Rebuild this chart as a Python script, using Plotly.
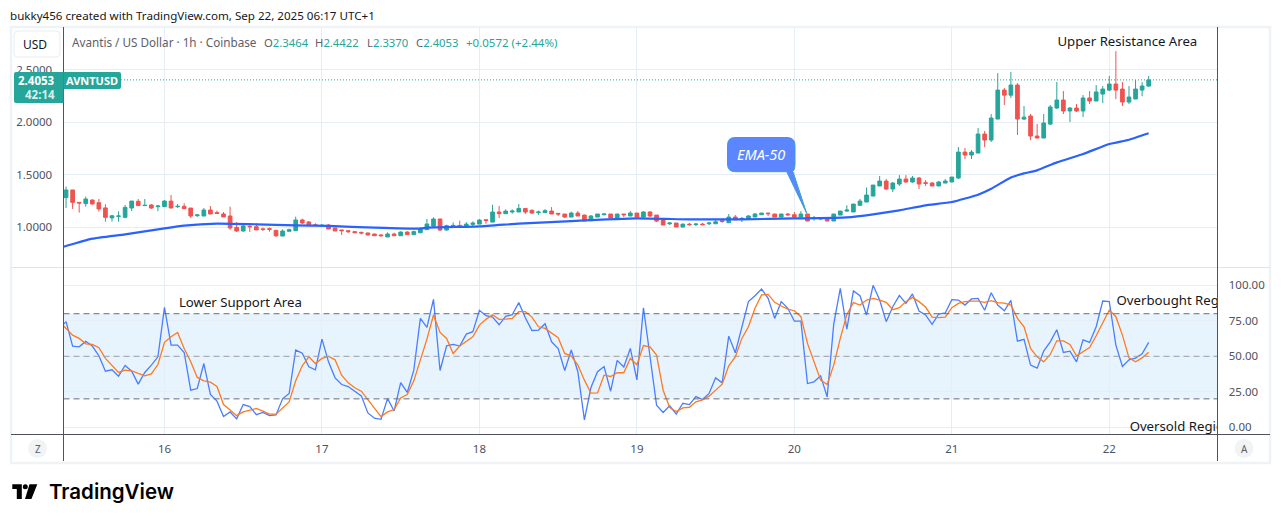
import pandas as pd
import plotly.graph_objects as go

W, H = 1281, 522
GREEN = "#26a69a"
RED = "#ef5350"
GRID = "#e6edf3"
DARK = "#50535e"

# hourly candles, Sep 15 09:00 to Sep 22 06:00
opens = [
    1.283, 1.356, 1.238, 1.226, 1.26, 1.235, 1.185, 1.09, 1.105, 1.095,
    1.184, 1.248, 1.207, 1.213, 1.197, 1.197, 1.25, 1.197, 1.2, 1.184,
    1.111, 1.108, 1.165, 1.14, 1.127, 1.108, 1.0, 0.965, 1.01, 1.006,
    0.985, 0.987, 0.971, 0.917, 0.962, 0.968, 1.07, 1.051, 1.025, 1.013,
    1.022, 0.994, 0.975, 0.968, 0.959, 0.952, 0.946, 0.936, 0.927, 0.908,
    0.936, 0.92, 0.955, 0.93, 0.949, 0.978,
    1.012, 1.079, 0.974, 1.012, 1.018, 1.0, 1.028, 1.031, 1.072, 1.05,
    1.146, 1.13, 1.146, 1.146, 1.18, 1.162, 1.14, 1.14, 1.155, 1.133,
    1.127, 1.098, 1.136, 1.117, 1.063, 1.098, 1.12, 1.127, 1.089, 1.127,
    1.108, 1.136, 1.098, 1.146, 1.117, 1.069, 1.034, 1.041, 1.003, 1.03,
    1.025, 1.031, 1.034, 1.034, 1.063, 1.044, 1.098, 1.079, 1.075, 1.098,
    1.12, 1.136, 1.127, 1.098, 1.127, 1.12, 1.098, 1.127, 1.085, 1.079,
    1.089, 1.06, 1.117, 1.155, 1.146, 1.21, 1.241, 1.298, 1.394, 1.441,
    1.365, 1.413, 1.46, 1.432, 1.47, 1.425, 1.422, 1.394, 1.422, 1.432,
    1.47, 1.717, 1.689, 1.708, 1.889, 1.832, 2.032, 2.308, 2.26, 2.356,
    2.032, 2.061, 1.87, 1.851, 1.984, 2.137, 2.213, 2.109, 2.137, 2.109,
    2.233, 2.204, 2.27, 2.308, 2.366, 2.318, 2.194, 2.223, 2.308, 2.3464,
]
highs = [
    1.388, 1.356, 1.24, 1.293, 1.267, 1.27, 1.22, 1.118, 1.153, 1.213,
    1.252, 1.27, 1.27, 1.222, 1.213, 1.26, 1.308, 1.222, 1.229, 1.184,
    1.124, 1.184, 1.203, 1.159, 1.146, 1.197, 1.05, 1.02, 1.02, 1.038,
    0.997, 0.997, 0.971, 0.981, 0.987, 1.102, 1.083, 1.06, 1.038, 1.03,
    1.03, 0.994, 0.975, 0.975, 0.965, 0.959, 0.949, 0.94, 0.936, 0.952,
    0.949, 0.962, 0.962, 0.968, 1.0, 1.08,
    1.095, 1.085, 1.025, 1.047, 1.063, 1.05, 1.057, 1.079, 1.079, 1.215,
    1.203, 1.171, 1.171, 1.222, 1.18, 1.171, 1.159, 1.174, 1.193, 1.133,
    1.127, 1.149, 1.155, 1.12, 1.117, 1.127, 1.133, 1.127, 1.127, 1.127,
    1.155, 1.136, 1.155, 1.155, 1.117, 1.069, 1.05, 1.041, 1.034, 1.041,
    1.041, 1.041, 1.05, 1.069, 1.069, 1.127, 1.117, 1.098, 1.117, 1.136,
    1.136, 1.136, 1.127, 1.127, 1.136, 1.146, 1.155, 1.127, 1.108, 1.091,
    1.098, 1.127, 1.155, 1.21, 1.222, 1.27, 1.38, 1.403, 1.489, 1.46,
    1.432, 1.498, 1.498, 1.489, 1.48, 1.45, 1.432, 1.441, 1.46, 1.479,
    1.765, 1.756, 1.737, 1.947, 1.918, 2.08, 2.47, 2.328, 2.48, 2.375,
    2.156, 2.08, 1.985, 2.08, 2.166, 2.385, 2.299, 2.147, 2.175, 2.261,
    2.299, 2.356, 2.347, 2.442, 2.68, 2.385, 2.347, 2.404, 2.385, 2.4422,
]
lows = [
    1.184, 1.175, 1.14, 1.197, 1.216, 1.15, 1.054, 1.054, 1.054, 1.086,
    1.156, 1.207, 1.205, 1.175, 1.153, 1.197, 1.184, 1.184, 1.178, 1.089,
    1.099, 1.108, 1.127, 1.127, 1.099, 0.975, 0.955, 0.96, 0.955, 0.975,
    0.965, 0.959, 0.908, 0.917, 0.962, 0.968, 1.032, 1.016, 1.013, 1.006,
    0.984, 0.965, 0.927, 0.946, 0.949, 0.933, 0.924, 0.917, 0.911, 0.908,
    0.92, 0.917, 0.93, 0.93, 0.943, 0.978,
    1.0, 0.965, 0.97, 1.012, 1.012, 1.0, 1.012, 1.031, 1.034, 1.05,
    1.089, 1.13, 1.13, 1.146, 1.127, 1.127, 1.12, 1.14, 1.127, 1.108,
    1.089, 1.098, 1.108, 1.06, 1.06, 1.098, 1.114, 1.089, 1.089, 1.098,
    1.108, 1.098, 1.098, 1.098, 1.05, 1.022, 1.022, 1.003, 1.0, 1.016,
    1.012, 1.022, 1.022, 1.034, 1.044, 1.04, 1.069, 1.05, 1.075, 1.098,
    1.12, 1.108, 1.098, 1.098, 1.108, 1.089, 1.098, 1.06, 1.063, 1.069,
    1.06, 1.06, 1.117, 1.146, 1.146, 1.21, 1.241, 1.298, 1.394, 1.356,
    1.336, 1.394, 1.425, 1.425, 1.365, 1.394, 1.394, 1.394, 1.422, 1.432,
    1.46, 1.651, 1.651, 1.708, 1.765, 1.813, 2.032, 2.166, 2.232, 1.88,
    2.023, 1.832, 1.851, 1.851, 1.975, 2.128, 2.08, 2.004, 2.099, 2.051,
    2.175, 2.204, 2.184, 2.3, 2.222, 2.156, 2.175, 2.223, 2.25, 2.337,
]
closes = [
    1.356, 1.238, 1.232, 1.27, 1.223, 1.175, 1.095, 1.11, 1.108, 1.19,
    1.25, 1.207, 1.21, 1.184, 1.203, 1.25, 1.184, 1.2, 1.178, 1.108,
    1.118, 1.165, 1.127, 1.133, 1.099, 0.994, 0.965, 1.013, 1.006, 0.975,
    0.98, 0.981, 0.92, 0.965, 0.978, 1.07, 1.041, 1.016, 1.019, 1.019,
    0.984, 0.965, 0.968, 0.959, 0.949, 0.946, 0.927, 0.92, 0.92, 0.936,
    0.92, 0.955, 0.93, 0.959, 0.981, 1.032,
    1.079, 0.974, 1.016, 1.018, 1.012, 1.031, 1.041, 1.069, 1.066, 1.146,
    1.13, 1.155, 1.155, 1.18, 1.146, 1.136, 1.146, 1.159, 1.127, 1.127,
    1.098, 1.136, 1.108, 1.06, 1.108, 1.127, 1.127, 1.089, 1.127, 1.12,
    1.136, 1.098, 1.146, 1.108, 1.06, 1.022, 1.041, 1.003, 1.031, 1.025,
    1.031, 1.025, 1.041, 1.053, 1.056, 1.098, 1.072, 1.085, 1.108, 1.127,
    1.136, 1.13, 1.098, 1.127, 1.12, 1.098, 1.127, 1.06, 1.091, 1.085,
    1.06, 1.127, 1.155, 1.165, 1.222, 1.25, 1.308, 1.403, 1.441, 1.365,
    1.422, 1.46, 1.432, 1.47, 1.413, 1.42, 1.394, 1.432, 1.441, 1.479,
    1.717, 1.689, 1.717, 1.889, 1.832, 2.042, 2.308, 2.26, 2.356, 2.032,
    2.05, 1.87, 1.851, 1.994, 2.147, 2.213, 2.109, 2.137, 2.109, 2.233,
    2.204, 2.29, 2.318, 2.366, 2.308, 2.194, 2.242, 2.318, 2.347, 2.4053,
]

# EMA-50, read at selected hours counted from Sep 16 00:00
ema_hours = [-16, -15, -11, -6, 0, 3, 8, 14, 20, 25, 32, 39, 40, 48, 54, 62, 72, 80, 88, 96,
             104, 108, 112, 116, 120, 124, 126, 129, 131, 133, 136, 140, 144, 147, 150]
ema_values = [0.806, 0.822, 0.892, 0.933, 0.99, 1.016, 1.035, 1.029, 1.019, 1.013, 0.997, 0.987,
              0.9965, 1.009, 1.035, 1.06, 1.085, 1.076, 1.076, 1.085, 1.095, 1.124, 1.162, 1.209,
              1.241, 1.311, 1.368, 1.476, 1.514, 1.543, 1.619, 1.699, 1.794, 1.835, 1.896]

# Stochastic RSI, Sep 15 08:00 to Sep 22 06:00
k_line = [
    69.6, 74.4, 57.2, 56.7, 60.5, 57.2, 50.4, 39.5, 40.5, 36, 43.5, 39.5, 30.4, 38.6, 43.8, 49.6, 84.5,
    57.9, 57.9, 52.7, 26.1, 27.3, 44.9, 23.1, 18.4, 7.5, 10.8, 5.9, 16, 14.6, 8.9, 10.4, 8.2, 8.7, 20,
    23.8, 54.4, 52.2, 42.6, 40.5, 62.1, 46.1, 34.8, 30.1, 28.7, 25.4, 22.1, 10.1, 6.4, 5.6, 20.2, 11.5,
    31.5, 24.5, 40.2, 76.7, 70.4,
    90.1, 40, 57.4, 58.4, 57.2, 65.6, 67.3, 82.4, 78.6, 77.6, 72.2, 78.1, 79.3, 87.8, 77.2, 68.2, 68.5,
    72.9, 60.2, 55.5, 40, 54.4, 39.1, 5.2, 28, 39.1, 42.8, 25.4, 47.1, 42.4, 55.5, 33.4, 84.2, 49.6,
    15.5, 10.4, 15.1, 9.2, 16.9, 16, 21.6, 19.5, 23.8, 34.8, 31.3, 64.2, 52.5, 70.6, 88.5, 92.7, 97.4,
    90.8, 76.7, 88.5, 83.8, 74.8, 74.8, 30.8, 32, 36.2, 21.4, 72.7, 97.9, 69.2,
    96, 92.7, 79.1, 100, 89.6, 74.4, 84.9, 92.9, 87.3, 93.9, 81.9, 79.1, 72.5, 79.8, 80.5, 89.9, 89.6,
    86.1, 90.4, 90.8, 82.4, 94.8, 86.1, 82.1, 89.4, 60.7, 61.9, 43.8, 41.6, 53.6, 60.2, 68.7, 52.7,
    53.6, 46.1, 61.6, 59.8, 70.8, 88.9, 88.5, 57.9, 42.8, 47.5, 48.7, 51.8, 59.8,
]
d_line = [
    74.4, 69.6, 64.9, 62.6, 58.8, 58.4, 56, 48.5, 43.8, 38.6, 40.2, 39.8, 37.9, 36.2, 37.6, 44.2, 59.8,
    63.8, 66.8, 55.5, 46.1, 35.1, 32.7, 31.8, 28.7, 16, 12.2, 8.2, 10.8, 12, 13.2, 11.3, 9.2, 9.2, 13.2,
    17.9, 32.7, 43.3, 49.6, 44.9, 48.5, 49.9, 47.5, 36.7, 31.3, 27.8, 25.4, 19.5, 13.2, 7.5, 10.8, 12.5,
    20.7, 23.1, 32.7, 47.3, 62.1,
    79.1, 66.8, 62.6, 52, 57.2, 60.7, 63.8, 72, 76, 79.3, 76, 76.2, 76.7, 81.4, 81.4, 77.6, 70.8, 69.6,
    66.6, 63.1, 52, 50.1, 43.8, 33.2, 24, 24.2, 36.7, 35.8, 38.4, 38.4, 48.5, 44, 57.6, 56.7, 50.8,
    26.1, 13.9, 11.1, 13.6, 14.1, 17.9, 19.3, 21.9, 26.1, 30.4, 43.3, 49.6, 62.6, 70.8, 83.8, 93.2,
    93.6, 88, 85.4, 83.3, 82.1, 77.9, 59.1, 45.6, 33.2, 30.1, 43.8, 62.6, 79.5,
    87.8, 86.1, 89.6, 90.8, 89.6, 88, 82.8, 84.2, 88.5, 91.5, 88.5, 84.7, 77.6, 77.2, 77.6, 84.2, 87.3,
    88.5, 88.9, 88.9, 88, 89.2, 87.8, 87.5, 86.1, 76.7, 70.8, 55.5, 49.6, 46.1, 51.3, 60.9, 60.9, 58.4,
    50.4, 53.6, 56.2, 64.5, 73.9, 82.6, 77.9, 64.9, 48.9, 46.1, 48.9, 52.9,
]

day_ticks = ["16", "17", "18", "19", "20", "21", "22"]
price_ticks = [1.0, 1.5, 2.0, 2.5]
rsi_ticks = [0, 25, 50, 75, 100]

# chart notes: text, hour from Sep 16 00:00, value
price_notes = ["Upper Resistance Area"]
price_note_hours = [136.1]
price_note_values = [2.757]
rsi_notes = ["Lower Support Area", "Overbought Region", "Oversold Region"]
rsi_note_hours = [2.2, 145.1, 147.1]
rsi_note_values = [86.8, 88.2, -0.2]

day0 = pd.Timestamp("2025-09-16 00:00")


def hours_to_time(hours):
    return [day0 + pd.Timedelta(hours=h) for h in hours]


def px(x):
    return x / W


def py(y):
    return 1 - y / H


def path(points):
    # points in screen pixels; tuples of 2 are lines, of 4 are quadratic curves
    parts = []
    for i, p in enumerate(points):
        if len(p) == 2:
            parts.append(("M" if i == 0 else "L") + f"{px(p[0]):.5f},{py(p[1]):.5f}")
        else:
            parts.append(f"Q{px(p[0]):.5f},{py(p[1]):.5f} {px(p[2]):.5f},{py(p[3]):.5f}")
    return " ".join(parts) + " Z"


def paper_shape(**kw):
    kw.setdefault("xref", "paper")
    kw.setdefault("yref", "paper")
    return kw


def rect(x0, y0, x1, y1, **kw):
    return paper_shape(type="rect", x0=px(x0), x1=px(x1), y0=py(y0), y1=py(y1), **kw)


def line(x0, y0, x1, y1, color, width=1):
    return paper_shape(type="line", x0=px(x0), x1=px(x1), y0=py(y0), y1=py(y1),
                       line=dict(color=color, width=width))


def label(text, x, y, size=12, color="#131722", anchor="left", **font):
    # annotations carry 2px of padding, take it back so x is where the glyphs start
    nudge = {"left": -2, "right": 2, "center": 0}[anchor]
    return dict(text=text, x=px(x + nudge), y=py(y), xref="paper", yref="paper", showarrow=False,
                xanchor=anchor, yanchor="middle", align=anchor,
                font=dict(size=size, color=color, **font))


x_first = day0 + pd.Timedelta(hours=-15.39)
x_last = day0 + pd.Timedelta(hours=160.49)
candle_times = pd.date_range(end="2025-09-22 06:00", periods=len(opens), freq="h")
rsi_times = pd.date_range(end="2025-09-22 06:00", periods=len(k_line), freq="h")
day_vals = pd.date_range("2025-09-16", periods=len(day_ticks), freq="D")

fig = go.Figure()
fig.add_trace(go.Candlestick(
    x=candle_times, open=opens, high=highs, low=lows, close=closes,
    increasing=dict(line=dict(color=GREEN, width=1), fillcolor=GREEN),
    decreasing=dict(line=dict(color=RED, width=1), fillcolor=RED),
    whiskerwidth=0, xaxis="x", yaxis="y", showlegend=False, hoverinfo="skip",
))
fig.add_trace(go.Scatter(x=hours_to_time(ema_hours), y=ema_values, mode="lines",
                         line=dict(color="#2962ff", width=2.2, shape="spline", smoothing=0.4),
                         xaxis="x", yaxis="y", hoverinfo="skip"))
fig.add_trace(go.Scatter(x=hours_to_time(price_note_hours), y=price_note_values, text=price_notes,
                         mode="text", textposition="middle right",
                         textfont=dict(size=13.2, color="#131722"),
                         xaxis="x", yaxis="y", hoverinfo="skip"))
fig.add_trace(go.Scatter(x=rsi_times, y=k_line, mode="lines", line=dict(color="#4a7dff", width=1.3),
                         xaxis="x2", yaxis="y2", hoverinfo="skip"))
fig.add_trace(go.Scatter(x=rsi_times, y=d_line, mode="lines", line=dict(color="#ff7a1f", width=1.3),
                         xaxis="x2", yaxis="y2", hoverinfo="skip"))
fig.add_trace(go.Scatter(x=hours_to_time(rsi_note_hours), y=rsi_note_values, text=rsi_notes,
                         mode="text", textposition="middle right",
                         textfont=dict(size=13.2, color="#131722"),
                         xaxis="x2", yaxis="y2", hoverinfo="skip"))

shapes = [
    # stoch rsi band and levels
    dict(type="rect", xref="x2 domain", yref="y2", x0=0, x1=1, y0=20, y1=80, layer="below",
         fillcolor="#e7f4fd", line=dict(width=0)),
    dict(type="line", xref="x2 domain", yref="y2", x0=0, x1=1, y0=80, y1=80,
         line=dict(color="#6a6d78", width=1, dash="6px,4px")),
    dict(type="line", xref="x2 domain", yref="y2", x0=0, x1=1, y0=50, y1=50,
         line=dict(color="#9a9da6", width=1, dash="6px,4px")),
    dict(type="line", xref="x2 domain", yref="y2", x0=0, x1=1, y0=20, y1=20,
         line=dict(color="#6a6d78", width=1, dash="6px,4px")),
    # last price line
    dict(type="line", xref="paper", yref="y", x0=px(121), x1=px(1217.5), y0=closes[-1], y1=closes[-1],
         line=dict(color=GREEN, width=1, dash="1px,2px")),
    # frame and pane separators
    rect(11, 27, 1270, 463, line=dict(color="#f0f3f6", width=2.5)),
    line(11, 267.5, 1270, 267.5, "#e0e3eb"),
    line(11, 434.5, 1270, 434.5, DARK),
    line(63.5, 27, 63.5, 461, DARK),
    line(1217.5, 27, 1217.5, 461, DARK),
    # price tag
    paper_shape(type="path", fillcolor=GREEN, line=dict(width=0), path=path([
        (16, 72), (63.5, 72), (63.5, 103), (16, 103), (14, 103, 14, 101), (14, 74), (14, 72, 16, 72)])),
    paper_shape(type="path", fillcolor=GREEN, line=dict(width=0), path=path([
        (63.5, 72), (119, 72), (121, 72, 121, 74), (121, 87), (121, 89, 119, 89), (63.5, 89)])),
    # USD button
    paper_shape(type="path", fillcolor="#ffffff", line=dict(color="#e8ebf0", width=1), path=path([
        (18, 31), (56, 31), (60, 31, 60, 35), (60, 53), (60, 57, 56, 57), (18, 57),
        (14, 57, 14, 53), (14, 35), (14, 31, 18, 31)])),
    # Z and A buttons
    paper_shape(type="circle", x0=px(28), x1=px(47), y0=py(439), y1=py(458),
                fillcolor="#f2f3f5", line=dict(width=0)),
    paper_shape(type="circle", x0=px(1234.5), x1=px(1253.5), y0=py(439), y1=py(458),
                fillcolor="#f2f3f5", line=dict(width=0)),
    # EMA-50 callout
    paper_shape(type="path", fillcolor="#5b86ff", line=dict(color="#3a9fd0", width=1), path=path([
        (735, 137.5), (787, 137.5), (795, 137.5, 795, 145.5), (795, 164), (795, 171.7, 791, 171.7),
        (793, 171.7), (806.7, 213.3), (786.7, 171.7), (735.5, 171.7), (727.5, 171.7, 727.5, 164),
        (727.5, 145.5), (727.5, 137.5, 735, 137.5)])),
    # TradingView mark
    paper_shape(type="path", fillcolor="#000000", line=dict(width=0), path=path([
        (12.3, 484.3), (21.8, 484.3), (21.8, 499), (16.8, 499), (16.8, 489), (12.3, 489)])),
    paper_shape(type="circle", x0=px(22.8), x1=px(27.8), y0=py(484.3), y1=py(489.3),
                fillcolor="#000000", line=dict(width=0)),
    paper_shape(type="path", fillcolor="#000000", line=dict(width=0), path=path([
        (29.5, 484.3), (37.3, 484.3), (31.4, 499), (25, 499)])),
]

FONT = "Noto Sans"
GREY = "#5d606b"
annotations = [
    label("bukky456 created with TradingView.com, Sep 22, 2025 06:17 UTC+1", 10, 15, 11.6, "#131722"),
    label("USD", 34.5, 44.5, 12, "#131722", "center"),
    label("Avantis / US Dollar · 1h · Coinbase", 72, 42, 11.7, GREY),
    label(f'O<span style="color:{GREEN}">2.3464</span>', 264, 42, 11.3, GREY),
    label(f'H<span style="color:{GREEN}">2.4422</span>', 315, 42, 11.3, GREY),
    label(f'L<span style="color:{GREEN}">2.3370</span>', 367, 42, 11.3, GREY),
    label(f'C<span style="color:{GREEN}">2.4053</span>', 416, 42, 11.3, GREY),
    label("+0.0572 (+2.44%)", 466, 42, 11.5, GREEN),
    label("<b>2.4053</b>", 55, 80.5, 11.5, "#ffffff", "right"),
    label("<b>42:14</b>", 55, 94.5, 11.5, "#d8f0ed", "right"),
    label("<b>AVNTUSD</b>", 92, 80.5, 11, "#ffffff", "center"),
    label("<i>EMA-50</i>", 761, 154.5, 14.5, "#ffffff", "center"),
    label("Z", 37.5, 448.5, 10, GREY, "center"),
    label("A", 1244, 449, 10, GREY, "center"),
    label("TradingView", 49, 491.5, 20.5, "#000000", family="Inter", weight=600),
]

axis_font = dict(size=11.5, color="#50535e")
fig.update_layout(
    width=W, height=H,
    margin=dict(l=0, r=0, t=0, b=0),
    paper_bgcolor="#ffffff", plot_bgcolor="#ffffff",
    font=dict(family=FONT),
    showlegend=False,
    xaxis=dict(domain=[px(63.5), px(1217.5)], range=[x_first, x_last], anchor="y",
               rangeslider=dict(visible=False), tickmode="array", tickvals=day_vals,
               ticktext=day_ticks, showticklabels=False, ticks="", gridcolor=GRID, zeroline=False),
    xaxis2=dict(domain=[px(63.5), px(1217.5)], range=[x_first, x_last], anchor="y2",
                tickmode="array", tickvals=day_vals, ticktext=day_ticks, tickfont=axis_font,
                ticks="outside", ticklen=4, tickcolor="rgba(0,0,0,0)", gridcolor=GRID, zeroline=False),
    yaxis=dict(domain=[py(267.5), py(27)], range=[0.6171, 2.9094], anchor="x", side="left",
               tickmode="array", tickvals=price_ticks, tickformat=".4f", tickfont=axis_font,
               ticks="outside", ticklen=8, tickcolor="rgba(0,0,0,0)", gridcolor=GRID, zeroline=False),
    yaxis2=dict(domain=[py(434.5), py(268)], range=[-5.1, 112.2], anchor="x2", side="right",
                tickmode="array", tickvals=rsi_ticks, tickformat=".2f", tickfont=axis_font,
                ticks="outside", ticklen=8, tickcolor="rgba(0,0,0,0)", gridcolor=GRID, zeroline=False),
    boxgap=0.2,
    shapes=shapes,
    annotations=annotations,
)

fig.write_html("out.html", config={"displayModeBar": False},
               post_script="document.body.style.margin='0';document.body.style.overflow='hidden';")
